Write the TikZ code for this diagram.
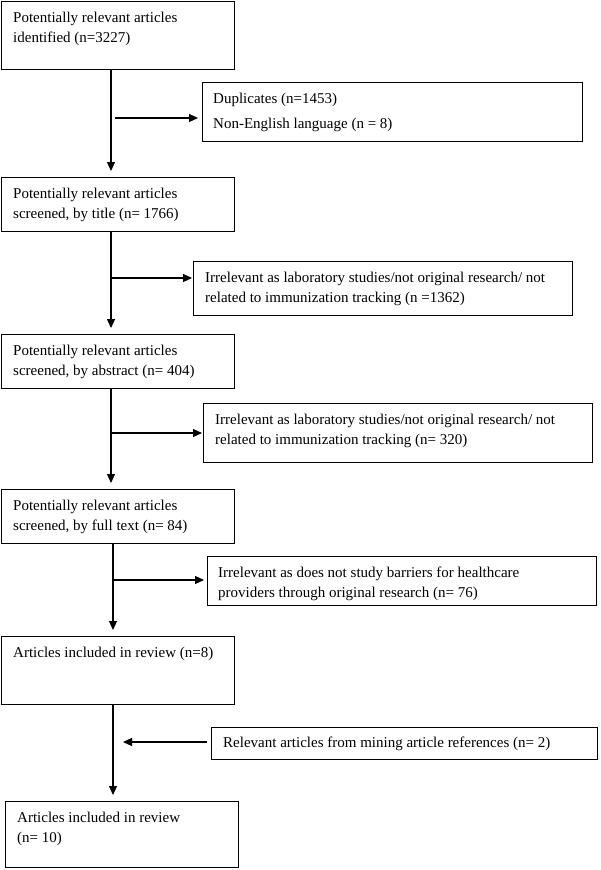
\documentclass[tikz,border=0pt]{standalone}
\usepackage{fontspec}
\setmainfont{Liberation Serif}
\usetikzlibrary{arrows.meta}
\begin{document}
\begin{tikzpicture}[x=1pt,y=-1pt,
  box/.style={draw=black, line width=1.1pt, rectangle, inner sep=0pt, anchor=north west},
  txt/.style={anchor=north west, inner sep=0pt, align=left, font=\fontsize{15}{20}\selectfont},
  arr/.style={draw=black, line width=1.1pt, -{Triangle[length=9pt,width=8pt]}}
]
\useasboundingbox[fill=white] (0,0) rectangle (600,870);

% left column boxes
\node[box, minimum width=233pt, minimum height=68pt] (b1) at (1,1) {};
\node[box, minimum width=233pt, minimum height=54pt] (b2) at (1,177) {};
\node[box, minimum width=233pt, minimum height=54pt] (b3) at (1,334) {};
\node[box, minimum width=233pt, minimum height=54pt] (b4) at (1,489) {};
\node[box, minimum width=233pt, minimum height=68pt] (b5) at (1,636) {};
\node[box, minimum width=233pt, minimum height=66pt] (b6) at (5,801) {};

% right column boxes
\node[box, minimum width=380pt, minimum height=59pt] (r1) at (202,82) {};
\node[box, minimum width=379pt, minimum height=54pt] (r2) at (193,261) {};
\node[box, minimum width=389pt, minimum height=59pt] (r3) at (203,403) {};
\node[box, minimum width=389pt, minimum height=49pt] (r4) at (207,556) {};
\node[box, minimum width=386pt, minimum height=32pt] (r5) at (211,727) {};

% texts
\node[txt] (tb1) at ([xshift=12pt,yshift=-7pt]b1.north west) {\strut Potentially relevant articles\\identified (n=3227)};
\node[txt] (tb2) at ([xshift=12pt,yshift=-7pt]b2.north west) {\strut Potentially relevant articles\\screened, by title (n= 1766)};
\node[txt] (tb3) at ([xshift=12pt,yshift=-7pt]b3.north west) {\strut Potentially relevant articles\\screened, by abstract (n= 404)};
\node[txt] (tb4) at ([xshift=12pt,yshift=-7pt]b4.north west) {\strut Potentially relevant articles\\screened, by full text (n= 84)};
\node[txt] (tb5) at ([xshift=12pt,yshift=-7pt]b5.north west) {\strut Articles included in review (n=8)};
\node[txt] (tb6) at ([xshift=12pt,yshift=-7pt]b6.north west) {\strut Articles included in review\\(n= 10)};

\node[txt, font=\fontsize{15}{25}\selectfont] (tr1) at ([xshift=11pt,yshift=-3.5pt]r1.north west) {\strut Duplicates (n=1453)\\Non-English language (n = 8)};
\node[txt] (tr2) at ([xshift=12pt,yshift=-7pt]r2.north west) {\strut Irrelevant as laboratory studies/not original research/ not\\related to immunization tracking (n =1362)};
\node[txt] (tr3) at ([xshift=12pt,yshift=-7pt]r3.north west) {\strut Irrelevant as laboratory studies/not original research/ not\\related to immunization tracking (n= 320)};
\node[txt] (tr4) at ([xshift=11pt,yshift=-7pt]r4.north west) {\strut Irrelevant as does not study barriers for healthcare\\providers through original research (n= 76)};
\node[txt] (tr5) at ([xshift=12pt,yshift=-6pt]r5.north west) {\strut Relevant articles from mining article references (n= 2)};

% main vertical flow
\coordinate (vA) at (111,0);
\coordinate (vB) at (113,0);
\draw[arr, shorten >=6pt] (b1.south -| vA) -- (b2.north -| vA);
\draw[arr, shorten >=6pt] (b2.south -| vA) -- (b3.north -| vA);
\draw[arr, shorten >=6pt] (b3.south -| vA) -- (b4.north -| vA);
\draw[arr, shorten >=6pt] (b4.south -| vB) -- (b5.north -| vB);
\draw[arr, shorten >=6pt] (b5.south -| vB) -- (b6.north -| vB);

% side branches
\coordinate (s1) at (115,118);
\coordinate (s2) at (111,278);
\coordinate (s3) at (111,433);
\coordinate (s4) at (113,580);
\coordinate (e5) at (123,742);
\draw[arr, shorten >=4pt] (s1) -- (s1 -| r1.west);
\draw[arr, shorten >=1pt] (s2) -- (s2 -| r2.west);
\draw[arr, shorten >=1pt] (s3) -- (s3 -| r3.west);
\draw[arr, shorten >=3pt] (s4) -- (s4 -| r4.west);
\draw[arr, shorten <=4pt] (e5 -| r5.west) -- (e5);
\end{tikzpicture}
\end{document}
